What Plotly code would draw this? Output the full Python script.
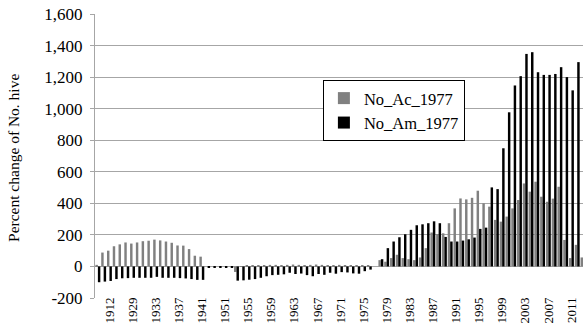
import plotly.graph_objects as go

# ---- data ----
years = (["1910", "1911", "1912", "1914", "1920", "1926"]
         + [str(y) for y in range(1929, 1942)]
         + ["1944", "1947", "1950"]
         + [str(y) for y in range(1951, 2014)])

no_ac_1977 = ([10, 88, 100, 128, 140, 152, 145, 152, 160, 163, 170, 165, 158, 150, 133, 132, 110, 68, 62]
              + [0, 0, 0]
              + [0, 0]
              + [-35]
              + [2, 3, 3, 5, 6]
              + [10, 10, 8, 10, 12, 10, 8, 10, 12, 10, 8, 8, 10, 8, 6, 5, 5, 5]
              + [0]
              + [40, 30, 53, 74, 53, 46, 40, 57, 116, 215, 205]
              + [210, 274, 368, 431, 425, 435, 480, 400, 379, 295, 284, 316, 368, 421, 526,
                 474, 537, 442, 410, 430, 505, 168, 53, 137, 57])

no_am_1977 = ([-100, -96, -92, -80, -75, -74, -72, -72, -72, -72, -66, -72, -72, -72, -74, -76, -80, -85, -85]
              + [-5, -5, -5]
              + [-5, -5]
              + [-90, -88, -84, -80, -72, -62, -55, -53, -50, -40, -48, -45, -55, -62, -48, -53,
                 -40, -46, -36, -38, -44, -46, -30, -20, 0]
              + [46, 116, 158, 185, 204, 232, 261, 267, 274, 286, 274, 187, 158, 158, 164, 172,
                 183, 238, 246, 501, 490, 749, 977, 1147, 1206, 1347, 1358, 1231, 1214, 1214,
                 1220, 1263, 1200, 1116, 1295]
              + [None])

x_tick_labels = ["1912", "1929", "1933", "1937", "1941", "1951", "1955", "1959", "1963",
                 "1967", "1971", "1975", "1979", "1983", "1987", "1991", "1995", "1999",
                 "2003", "2007", "2011"]
y_tick_values = [-200, 0, 200, 400, 600, 800, 1000, 1200, 1400, 1600]
y_tick_labels = ["-200", "0", "200", "400", "600", "800", "1,000", "1,200", "1,400", "1,600"]

FONT = "Liberation Serif, Times New Roman, serif"
GRID = "#a6a6a6"

fig = go.Figure()
fig.add_bar(x=years, y=no_ac_1977, name="No_Ac_1977",
            marker=dict(color="#808080", line=dict(width=0)))
fig.add_bar(x=years, y=no_am_1977, name="No_Am_1977",
            marker=dict(color="#000000", line=dict(width=0)))

fig.update_layout(
    width=583, height=323,
    margin=dict(l=95, r=0, t=14, b=25),
    paper_bgcolor="white", plot_bgcolor="white",
    font=dict(family=FONT, size=15, color="black"),
    barmode="group", bargap=0.15, bargroupgap=0,
    showlegend=True,
    legend=dict(x=0.467, y=0.768, xanchor="left", yanchor="top",
                bgcolor="white", bordercolor="black", borderwidth=1,
                font=dict(family=FONT, size=16.5, color="black"),
                tracegroupgap=0, itemwidth=30),
    xaxis=dict(type="category", categoryorder="array", categoryarray=years,
               range=[-0.5, 84.0], tickmode="array",
               tickvals=x_tick_labels, ticktext=x_tick_labels,
               tickangle=-90, tickfont=dict(family=FONT, size=13),
               ticklabelstandoff=-4,
               showgrid=False, showline=False, ticks="", automargin=False),
    yaxis=dict(range=[-200, 1600], tickmode="array",
               tickvals=y_tick_values, ticktext=y_tick_labels,
               showgrid=True, gridcolor=GRID, gridwidth=1,
               zeroline=True, zerolinecolor=GRID, zerolinewidth=1,
               showline=True, linecolor=GRID, linewidth=1,
               ticks="outside", ticklen=4, tickcolor=GRID,
               ticklabelstandoff=4,
               tickfont=dict(family=FONT, size=17), automargin=False),
    annotations=[dict(text="Percent change of No. hive", xref="paper", yref="paper",
                      x=-0.166, y=0.493, xanchor="center", yanchor="middle",
                      textangle=-90, showarrow=False,
                      font=dict(family=FONT, size=15.5, color="black"))],
)

fig.write_html("out.html", config={"displayModeBar": False},
               post_script="document.body.style.margin='0';")
